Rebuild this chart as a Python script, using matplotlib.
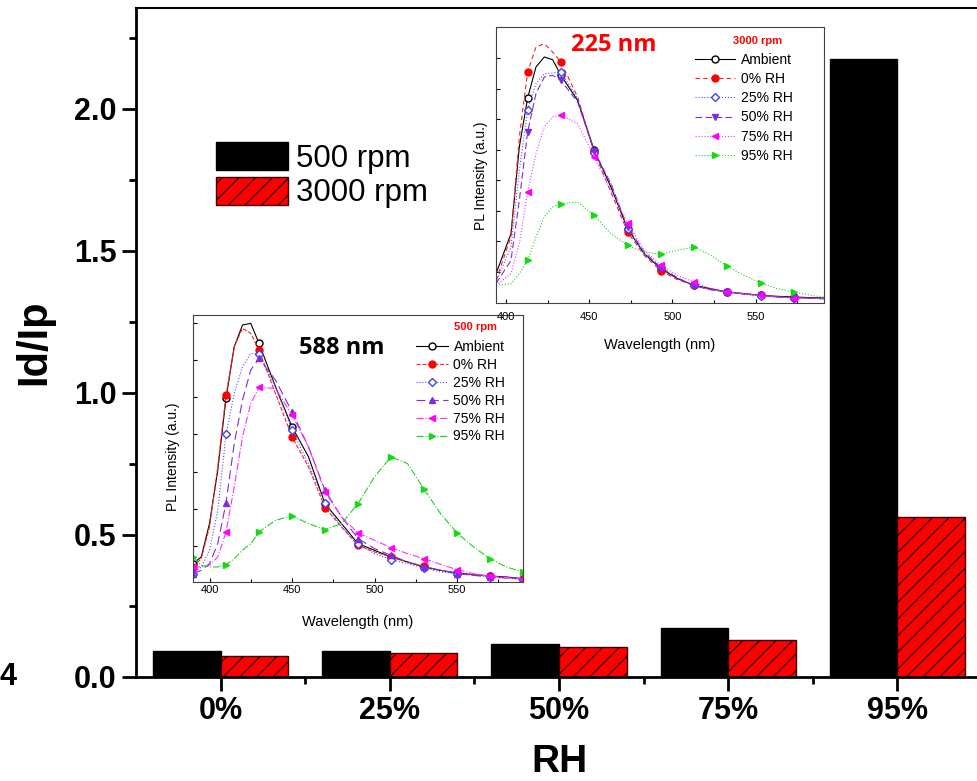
import numpy as np
import matplotlib
matplotlib.use("Agg")
import matplotlib.pyplot as plt

plt.rcParams['font.family'] = ['Liberation Sans', 'DejaVu Sans']
plt.rcParams['hatch.linewidth'] = 1.0

# main bar data
rh_labels = ['0%', '25%', '50%', '75%', '95%']
ratio_500 = [0.092, 0.092, 0.117, 0.173, 2.176]
ratio_3000 = [0.073, 0.085, 0.106, 0.130, 0.563]

# inset 1: 3000 rpm, 225 nm
wl_3000 = [394, 403, 408, 413, 418, 423, 428, 433, 443, 453, 463, 473, 483, 493,
           503, 513, 523, 533, 543, 553, 563, 573, 583, 591]
pl_3000 = {
    'Ambient': [88, 208, 468, 615, 708, 738, 730, 683, 608, 458, 348, 223, 148, 103, 73, 53, 43, 33, 28, 23, 20, 18, 16, 15],
    '0% RH':   [68, 198, 498, 693, 768, 778, 753, 723, 618, 453, 333, 213, 143, 96, 70, 53, 40, 33, 26, 23, 18, 16, 14, 13],
    '25% RH':  [63, 168, 398, 580, 658, 688, 690, 693, 613, 450, 358, 223, 148, 108, 73, 53, 40, 33, 26, 22, 18, 16, 14, 13],
    '50% RH':  [58, 128, 308, 513, 628, 678, 683, 668, 603, 455, 358, 228, 153, 106, 76, 51, 40, 33, 28, 23, 18, 16, 14, 13],
    '75% RH':  [53, 88, 178, 333, 448, 528, 558, 563, 538, 438, 338, 240, 158, 113, 83, 63, 43, 33, 28, 23, 18, 15, 14, 13],
    '95% RH':  [53, 58, 88, 128, 198, 258, 288, 298, 303, 263, 208, 173, 153, 146, 158, 168, 143, 110, 83, 60, 43, 33, 23, 18],
}
marks_3000 = [3, 7, 9, 11, 13, 15, 17, 19, 21]

# inset 2: 500 rpm, 588 nm
wl_500 = [390, 395, 400, 405, 410, 415, 420, 425, 430, 440, 450, 460, 470, 480, 490,
          500, 510, 520, 530, 540, 550, 560, 570, 580, 590]
pl_500 = {
    'Ambient': [55, 75, 175, 335, 550, 705, 770, 775, 715, 585, 465, 375, 235, 175, 115, 95, 75, 60, 45, 35, 27, 22, 18, 15, 10],
    '0% RH':   [45, 70, 165, 345, 560, 705, 760, 745, 695, 565, 435, 345, 223, 165, 110, 90, 75, 60, 47, 35, 27, 22, 18, 13, 10],
    '25% RH':  [25, 45, 95, 215, 442, 565, 645, 685, 682, 585, 455, 355, 237, 165, 115, 85, 67, 55, 42, 30, 25, 20, 15, 12, 7],
    '50% RH':  [25, 35, 55, 115, 237, 415, 545, 635, 670, 605, 510, 405, 275, 195, 130, 100, 80, 60, 45, 35, 25, 20, 15, 12, 9],
    '75% RH':  [45, 45, 50, 75, 150, 285, 435, 535, 583, 580, 500, 405, 270, 195, 147, 125, 103, 85, 70, 53, 37, 25, 17, 13, 9],
    '95% RH':  [75, 50, 45, 45, 52, 70, 95, 115, 150, 185, 198, 175, 157, 175, 235, 315, 375, 355, 278, 205, 147, 105, 70, 45, 30],
}
marks_500 = [0, 4, 8, 10, 12, 14, 16, 18, 20, 22, 24]

W, H = 978, 781
fig = plt.figure(figsize=(W / 100, H / 100), dpi=100)

def px(x0, y0, x1, y1):
    # pixel box -> figure fraction rect
    return [x0 / W, 1 - y1 / H, (x1 - x0) / W, (y1 - y0) / H]

ax = fig.add_axes(px(136, 8, 982, 677))
x = np.arange(len(rh_labels))
ax.bar(x - 0.2, ratio_500, 0.4, color='black', edgecolor='black', lw=1, label='500 rpm')
ax.bar(x + 0.2, ratio_3000, 0.4, color='#ff0000', edgecolor='#3a0000', lw=1,
       hatch='//', label='3000 rpm')
ax.set_xlim(-0.5, 4.5)
ax.set_ylim(0, 2.355)
ax.set_xticks(x)
ax.set_xticklabels(rh_labels, fontsize=22, fontweight='bold')
ax.set_xticks(x[:-1] + 0.5, minor=True)
ax.set_yticks([0, 0.5, 1.0, 1.5, 2.0])
ax.set_yticklabels(['0.0', '0.5', '1.0', '1.5', '2.0'], fontsize=22, fontweight='bold')
ax.set_yticks(np.arange(0.25, 2.3, 0.5), minor=True)
ax.tick_params(which='major', direction='out', length=10, width=2, pad=4)
ax.tick_params(which='minor', direction='out', length=5, width=2)
for s in ['left', 'bottom']:
    ax.spines[s].set_linewidth(2)
ax.spines['top'].set_linewidth(1.5)
ax.set_xlabel('RH', fontsize=28, fontweight='bold', labelpad=13)
ax.set_ylabel('Id/Ip', fontsize=30, fontweight='bold', labelpad=14)
ax.legend(loc='upper left', bbox_to_anchor=(216 / W, 1 - 142 / H), bbox_transform=fig.transFigure,
          frameon=False, fontsize=22.5, handlelength=2.3, handleheight=1.0,
          handletextpad=0.26, labelspacing=0.1, borderpad=0, borderaxespad=0)

fig.text(0 / W, 1 - 677 / H, '4', fontsize=22, fontweight='bold', va='center', ha='left')

styles = {
    'Ambient': dict(color='black', marker='o', mfc='white', mec='black'),
    '0% RH': dict(color='#ff2020', marker='o', mfc='#ff0000', mec='#ff0000'),
    '25% RH': dict(color='#5050ff', marker='D', mfc='white', mec='#4040ff', ms=4),
    '50% RH': dict(color='#7f2be0', mfc='#7f2be0', mec='#7f2be0'),
    '75% RH': dict(color='#ff30ff', marker='<', mfc='#ff00ff', mec='#ff00ff'),
    '95% RH': dict(color='#20d020', marker='>', mfc='#10dd10', mec='#10dd10'),
}

def inset(rect, wl, data, marks, xlim, ylim, yticks, lstyles, tri50, title, rpm,
          title_pos, rpm_pos, leg_anchor, hlen, lspace, ylab, xlab_y, tpad):
    a = fig.add_axes(px(*rect))
    for name, vals in data.items():
        st = dict(styles[name])
        st.setdefault('ms', 5)
        if name == '50% RH':
            st['marker'] = tri50
        a.plot(wl, vals, ls=lstyles[name], lw=0.8, markevery=marks, label=name, **st)
    a.set_xlim(*xlim)
    a.set_ylim(*ylim)
    a.set_xticks([400, 450, 500, 550])
    a.set_xticks([425, 475, 525, 575], minor=True)
    a.set_yticks(yticks)
    a.set_yticklabels([])
    a.tick_params(which='both', direction='in', labelsize=8, length=3, width=0.8, pad=tpad)
    a.tick_params(which='minor', length=2)
    for s in a.spines.values():
        s.set_linewidth(0.8)
        s.set_color('#404040')
    a.set_xlabel('Wavelength (nm)', fontsize=10.5)
    a.xaxis.set_label_coords(0.5, xlab_y)
    a.set_ylabel('PL Intensity (a.u.)', fontsize=10)
    a.yaxis.set_label_coords(*ylab)
    a.legend(loc='upper left', bbox_to_anchor=(leg_anchor[0] / W, 1 - leg_anchor[1] / H),
             bbox_transform=fig.transFigure, frameon=False, fontsize=10,
             handlelength=hlen, handletextpad=0.4, labelspacing=lspace, borderpad=0,
             borderaxespad=0)
    fig.text(title_pos[0] / W, 1 - title_pos[1] / H, title[0], color=title[1], fontsize=17,
             fontweight='bold', family=['Open Sans', 'DejaVu Sans'], ha='center', va='center')
    fig.text(rpm_pos[0] / W, 1 - rpm_pos[1] / H, rpm, color='red', fontsize=8,
             fontweight='bold', ha='center', va='center')
    return a

# 500 rpm inset first, so the 3000 rpm inset's tick labels sit on top of it
inset((193, 315, 523, 582), wl_500, pl_500, marks_500, (390, 590), (0, 800),
      np.linspace(108, 777, 7),
      {'Ambient': '-', '0% RH': '--', '25% RH': ':', '50% RH': (0, (8, 4)),
       '75% RH': '-.', '95% RH': '-.'},
      '^', ('588 nm', 'black'), '500 rpm', (342, 348), (476, 327), (416, 340),
      2.3, 0.28, (-0.04, 0.47), -0.125, 2)

inset((496, 27, 824, 303), wl_3000, pl_3000, marks_3000, (394, 591), (0, 828),
      np.linspace(93, 735, 8),
      {'Ambient': '-', '0% RH': (0, (4, 3)), '25% RH': ':', '50% RH': (0, (6, 3)),
       '75% RH': ':', '95% RH': ':'},
      'v', ('225 nm', 'red'), '3000 rpm', (614, 45), (758, 41), (695, 53),
      2.9, 0.37, (-0.025, 0.46), -0.125, 6.5)

fig.savefig('out.png', dpi=100)
